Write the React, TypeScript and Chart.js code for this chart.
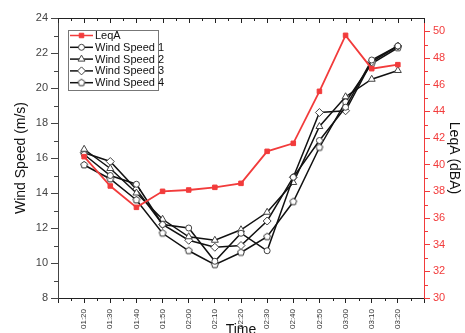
import React, { useEffect, useRef } from 'react';
import { Chart, registerables } from 'chart.js';
import { drawPoint } from 'chart.js/helpers';

Chart.register(...registerables);

const times = ['01:20', '01:30', '01:40', '01:50', '02:00', '02:10', '02:20', '02:30', '02:40', '02:50', '03:00', '03:10', '03:20'];
const leqA = [40.6, 38.4, 36.8, 38.0, 38.1, 38.3, 38.6, 41.0, 41.6, 45.5, 49.7, 47.2, 47.5];
const windSpeed1 = [16.2, 15.0, 14.5, 12.2, 12.0, 10.1, 11.7, 10.7, 14.9, 17.0, 18.9, 21.6, 22.4];
const windSpeed2 = [16.5, 15.4, 14.0, 12.5, 11.5, 11.3, 11.9, 12.9, 14.6, 17.8, 19.5, 20.5, 21.0];
const windSpeed3 = [16.3, 15.8, 14.2, 12.2, 11.3, 10.9, 11.0, 12.4, 14.9, 18.6, 18.7, 21.5, 22.4];
const windSpeed4 = [15.6, 14.8, 13.6, 11.7, 10.7, 9.9, 10.6, 11.5, 13.5, 16.6, 19.2, 21.4, 22.3];

const RED = '#f23b3b';
const DARK = '#222222';
const FONT = "'Liberation Sans', Arial, sans-serif";

function makePentagon(r: number) {
  const size = Math.ceil(r * 2 + 4);
  const c = document.createElement('canvas');
  c.width = size;
  c.height = size;
  const ctx = c.getContext('2d')!;
  ctx.beginPath();
  for (let i = 0; i < 5; i++) {
    const a = -Math.PI / 2 + (i * 2 * Math.PI) / 5;
    const x = size / 2 + r * Math.cos(a);
    const y = size / 2 + r * Math.sin(a);
    if (i === 0) ctx.moveTo(x, y);
    else ctx.lineTo(x, y);
  }
  ctx.closePath();
  ctx.fillStyle = '#ffffff';
  ctx.fill();
  ctx.strokeStyle = '#333333';
  ctx.lineWidth = 1;
  ctx.stroke();
  return c;
}

const axisDecor = {
  id: 'axisDecor',
  afterDraw(chart: any) {
    const { ctx, chartArea, scales } = chart;
    const { left, right, top, bottom } = chartArea;
    ctx.save();
    ctx.lineWidth = 1;
    ctx.strokeStyle = DARK;
    ctx.beginPath();
    ctx.moveTo(left, top + 0.5);
    ctx.lineTo(right, top + 0.5);
    ctx.stroke();
    for (let v = 0; v <= 14; v += 0.5) {
      const px = Math.round(scales.x.getPixelForValue(v)) + 0.5;
      const major = v % 1 === 0;
      ctx.beginPath();
      if (!major) {
        ctx.moveTo(px, bottom);
        ctx.lineTo(px, bottom + 3);
      }
      ctx.moveTo(px, top);
      ctx.lineTo(px, top + (major ? 5 : 3));
      ctx.stroke();
    }
    ctx.strokeStyle = '#444444';
    for (let v = 9; v < 24; v += 2) {
      const py = Math.round(scales.y.getPixelForValue(v)) + 0.5;
      ctx.beginPath();
      ctx.moveTo(left - 4, py);
      ctx.lineTo(left, py);
      ctx.stroke();
    }
    ctx.strokeStyle = RED;
    for (let v = 31; v < 51; v += 2) {
      const py = Math.round(scales.y1.getPixelForValue(v)) + 0.5;
      ctx.beginPath();
      ctx.moveTo(right, py);
      ctx.lineTo(right + 4, py);
      ctx.stroke();
    }
    ctx.restore();
  },
};

const boxLegend = {
  id: 'boxLegend',
  afterDraw(chart: any) {
    const { ctx, chartArea } = chart;
    const x0 = chartArea.left + 10;
    const y0 = chartArea.top + 12;
    const w = 90;
    const rowH = 11.8;
    const n = chart.data.datasets.length;
    const h = rowH * n + 1;
    ctx.save();
    ctx.fillStyle = '#ffffff';
    ctx.fillRect(x0, y0, w, h);
    ctx.strokeStyle = '#777777';
    ctx.lineWidth = 1;
    ctx.strokeRect(x0 + 0.5, y0 + 0.5, w, h);
    ctx.font = `11px ${FONT}`;
    ctx.textBaseline = 'middle';
    chart.data.datasets.forEach((ds: any, i: number) => {
      const cy = y0 + 5.5 + rowH * i;
      ctx.strokeStyle = ds.borderColor;
      ctx.lineWidth = 1.5;
      ctx.beginPath();
      ctx.moveTo(x0 + 2, cy);
      ctx.lineTo(x0 + 25, cy);
      ctx.stroke();
      ctx.fillStyle = ds.pointBackgroundColor;
      ctx.strokeStyle = ds.pointBorderColor;
      ctx.lineWidth = 1;
      drawPoint(ctx, { pointStyle: ds.pointStyle, radius: ds.pointRadius, rotation: 0, borderWidth: 1 }, x0 + 13.5, cy);
      ctx.fillStyle = '#111111';
      ctx.fillText(ds.label, x0 + 27, cy + 0.5);
    });
    ctx.restore();
  },
};

export default function App() {
  const ref = useRef<HTMLCanvasElement>(null);
  useEffect(() => {
    if (!ref.current) return;
    Chart.defaults.font.family = FONT;
    const pent = makePentagon(3.6);
    const pts = (arr: number[]) => arr.map((v, i) => ({ x: i + 1, y: v }));
    const wind = (label: string, data: number[], style: any, radius: number) => ({
      label,
      data: pts(data),
      yAxisID: 'y',
      borderColor: '#111111',
      borderWidth: 1.5,
      pointStyle: style,
      pointRadius: radius,
      pointBackgroundColor: '#ffffff',
      pointBorderColor: '#444444',
      pointBorderWidth: 1,
    });
    const chart = new Chart(ref.current, {
      type: 'line',
      data: {
        datasets: [
          {
            label: 'LeqA',
            data: pts(leqA),
            yAxisID: 'y1',
            borderColor: RED,
            borderWidth: 1.8,
            pointStyle: 'rect',
            pointRadius: 3.2,
            pointBackgroundColor: RED,
            pointBorderColor: RED,
            pointBorderWidth: 1,
          },
          wind('Wind Speed 1', windSpeed1, 'circle', 3),
          wind('Wind Speed 2', windSpeed2, 'triangle', 4),
          wind('Wind Speed 3', windSpeed3, 'rectRot', 4),
          wind('Wind Speed 4', windSpeed4, pent, 3.6),
        ] as any,
      },
      options: {
        responsive: false,
        animation: false,
        layout: { padding: { top: 18, left: 0, right: 0, bottom: 0 } },
        plugins: { legend: { display: false }, tooltip: { enabled: false } },
        scales: {
          x: {
            type: 'linear',
            min: 0,
            max: 14,
            afterFit: (s: any) => { s.height = 35; },
            grid: { drawOnChartArea: false, tickLength: 5, tickColor: DARK },
            border: { color: DARK, width: 1 },
            ticks: {
              stepSize: 1,
              autoSkip: false,
              minRotation: 90,
              maxRotation: 90,
              padding: 6,
              color: '#333333',
              font: { size: 8 },
              callback: (v: any) => {
                const i = Math.round(Number(v)) - 1;
                return i >= 0 && i < times.length ? times[i] : '';
              },
            },
            title: {
              display: true,
              text: 'Time',
              color: '#111111',
              font: { size: 14 },
              padding: { top: 0, bottom: -6 },
            },
          },
          y: {
            type: 'linear',
            position: 'left',
            min: 8,
            max: 24,
            afterFit: (s: any) => { s.width = 58; },
            grid: { drawOnChartArea: false, tickLength: 7, tickColor: '#444444' },
            border: { color: '#444444', width: 1 },
            ticks: { stepSize: 2, color: '#444444', font: { size: 11 }, padding: 3 },
            title: {
              display: true,
              text: 'Wind Speed (m/s)',
              color: '#111111',
              font: { size: 14 },
              padding: { top: 12.5, bottom: 0 },
            },
          },
          y1: {
            type: 'linear',
            position: 'right',
            min: 30,
            max: 51,
            afterFit: (s: any) => { s.width = 41; },
            grid: { drawOnChartArea: false, tickLength: 6, tickColor: RED },
            border: { color: RED, width: 1 },
            ticks: { stepSize: 2, includeBounds: false, color: RED, font: { size: 11 }, padding: 3 },
            title: {
              display: true,
              text: 'LeqA (dBA)',
              color: '#111111',
              font: { size: 14 },
              padding: { top: 2.5, bottom: 0 },
            },
          },
        },
      } as any,
      plugins: [axisDecor, boxLegend],
    });
    return () => chart.destroy();
  }, []);
  return (
    <div style={{ position: 'fixed', left: 0, top: 0, width: 465, height: 333, background: '#fff' }}>
      <canvas ref={ref} width={465} height={333} />
    </div>
  );
}
